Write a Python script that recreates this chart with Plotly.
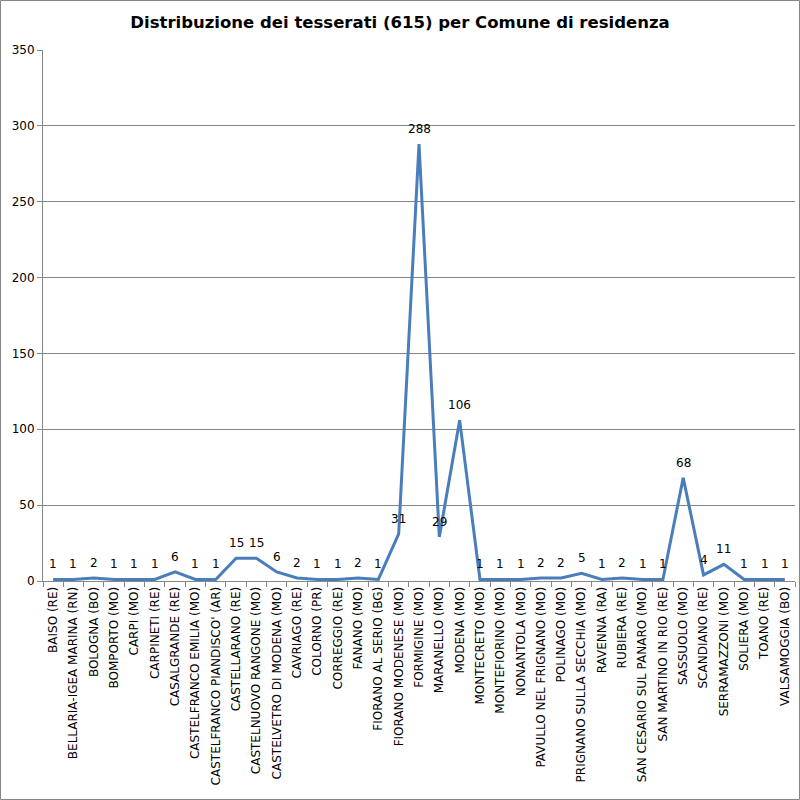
import plotly.graph_objects as go

comuni = [
    "BAISO (RE)", "BELLARIA-IGEA MARINA (RN)", "BOLOGNA (BO)", "BOMPORTO (MO)",
    "CARPI (MO)", "CARPINETI (RE)", "CASALGRANDE (RE)", "CASTELFRANCO EMILIA (MO)",
    "CASTELFRANCO PIANDISCO' (AR)", "CASTELLARANO (RE)", "CASTELNUOVO RANGONE (MO)",
    "CASTELVETRO DI MODENA (MO)", "CAVRIAGO (RE)", "COLORNO (PR)", "CORREGGIO (RE)",
    "FANANO (MO)", "FIORANO AL SERIO (BG)", "FIORANO MODENESE (MO)", "FORMIGINE (MO)",
    "MARANELLO (MO)", "MODENA (MO)", "MONTECRETO (MO)", "MONTEFIORINO (MO)",
    "NONANTOLA (MO)", "PAVULLO NEL FRIGNANO (MO)", "POLINAGO (MO)",
    "PRIGNANO SULLA SECCHIA (MO)", "RAVENNA (RA)", "RUBIERA (RE)",
    "SAN CESARIO SUL PANARO (MO)", "SAN MARTINO IN RIO (RE)", "SASSUOLO (MO)",
    "SCANDIANO (RE)", "SERRAMAZZONI (MO)", "SOLIERA (MO)", "TOANO (RE)",
    "VALSAMOGGIA (BO)",
]
tesserati = [
    1, 1, 2, 1, 1, 1, 6, 1, 1, 15, 15, 6, 2, 1, 1, 2, 1, 31, 288, 29, 106,
    1, 1, 1, 2, 2, 5, 1, 2, 1, 1, 68, 4, 11, 1, 1, 1,
]

FONT = "DejaVu Sans"

fig = go.Figure(go.Scatter(
    x=comuni, y=tesserati,
    mode="lines",
    line=dict(color="#4a7ebb", width=3),
    hoverinfo="x+y",
))

# data labels above each point
for c, v in zip(comuni, tesserati):
    fig.add_annotation(
        x=c, y=v, text=str(v), showarrow=False,
        xanchor="center", yanchor="bottom", yshift=6,
        font=dict(family=FONT, size=12, color="black"),
    )

L, R, T, B = 43, 5, 50, 219
pw = 800 - L - R
ph = 800 - T - B

fig.update_layout(
    width=800, height=800,
    margin=dict(l=L, r=R, t=T, b=B),
    paper_bgcolor="white", plot_bgcolor="white",
    showlegend=False,
    font=dict(family=FONT, size=12, color="black"),
    title=dict(
        text="<b>Distribuzione dei tesserati (615) per Comune di residenza</b>",
        x=0.5, xref="container", xanchor="center",
        y=1 - 22 / 800, yref="container", yanchor="middle",
        font=dict(family=FONT, size=16.5, color="black"),
    ),
    xaxis=dict(
        type="category",
        range=[-0.5, len(comuni) - 0.5],
        tickangle=-90,
        tickson="boundaries",
        ticks="outside", ticklen=5, tickcolor="#868686",
        showline=True, linecolor="#868686", linewidth=1,
        showgrid=False,
        tickfont=dict(family=FONT, size=12),
    ),
    yaxis=dict(
        range=[0, 350],
        tickvals=[0, 50, 100, 150, 200, 250, 300, 350],
        ticks="outside", ticklen=5, tickcolor="#868686",
        showline=True, linecolor="#868686", linewidth=1,
        showgrid=True, gridcolor="#868686", gridwidth=1,
        zeroline=False,
        tickfont=dict(family=FONT, size=12),
    ),
    shapes=[dict(
        type="rect", xref="paper", yref="paper",
        x0=-(L - 0.5) / pw, x1=1 + (R - 0.5) / pw,
        y0=-(B - 0.5) / ph, y1=1 + (T - 0.5) / ph,
        line=dict(color="#868686", width=1),
    )],
)

fig.write_html("out.html", config={"displayModeBar": False})

# drop the default page margin so the 800x800 figure fills the window
with open("out.html", encoding="utf-8") as f:
    page = f.read()
page = page.replace("<head>", "<head><style>html,body{margin:0;padding:0;overflow:hidden}</style>", 1)
with open("out.html", "w", encoding="utf-8") as f:
    f.write(page)
